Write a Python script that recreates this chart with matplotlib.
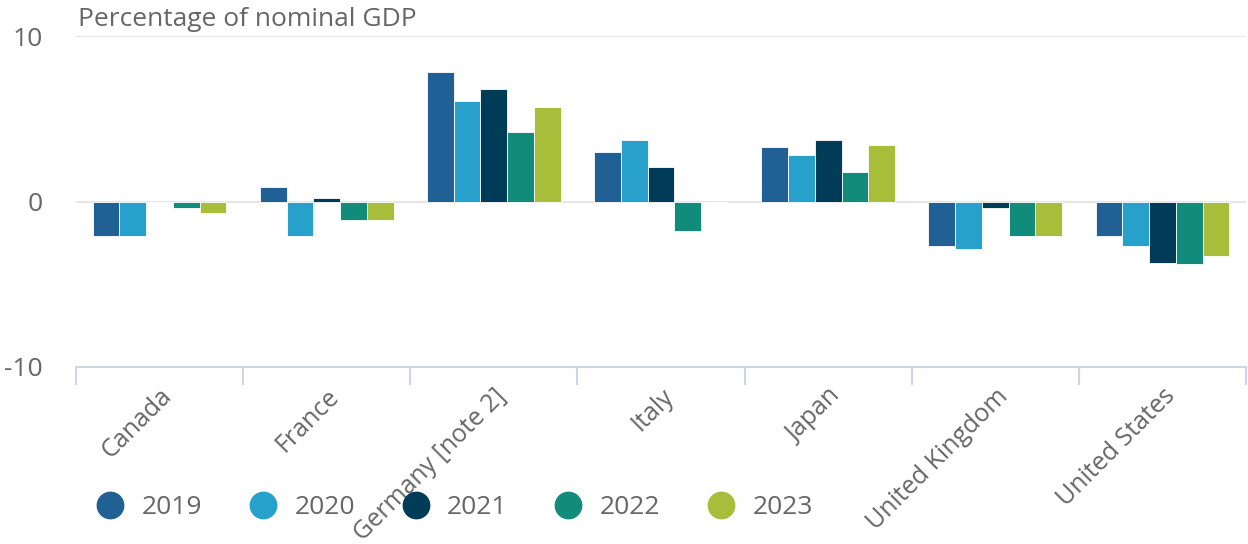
import matplotlib
matplotlib.use("Agg")
import matplotlib.pyplot as plt
import numpy as np
from matplotlib.lines import Line2D

countries = ["Canada", "France", "Germany [note 2]", "Italy", "Japan",
             "United Kingdom", "United States"]
years = ["2019", "2020", "2021", "2022", "2023"]
v2019 = [-2.1, 0.9, 7.8, 3.0, 3.3, -2.7, -2.1]
v2020 = [-2.1, -2.1, 6.1, 3.7, 2.8, -2.9, -2.7]
v2021 = [0.0, 0.2, 6.8, 2.1, 3.7, -0.4, -3.7]
v2022 = [-0.4, -1.1, 4.2, -1.8, 1.8, -2.1, -3.8]
v2023 = [-0.7, -1.1, 5.7, 0.0, 3.4, -2.1, -3.3]
series = [v2019, v2020, v2021, v2022, v2023]
colors = ["#206095", "#27a0cc", "#003c57", "#118c7b", "#a8bd3a"]

plt.rcParams['font.family'] = ['Open Sans', 'DejaVu Sans']
text_color = "#666666"
FS = 19

fig = plt.figure(figsize=(12.48, 5.44), dpi=100)
ax = fig.add_axes([76/1248, 1-367/544, (1246-76)/1248, (367-36)/544])

n = len(countries)
x = np.arange(n)
group_w = 0.8
bw = group_w / len(series)
for i, (vals, c) in enumerate(zip(series, colors)):
    offs = -group_w/2 + bw*(i+0.5)
    ax.bar(x + offs, vals, width=bw, color=c, edgecolor="white", linewidth=0.6, zorder=3)

ax.set_xlim(-0.5, n-0.5)
ax.set_ylim(-10, 10)

for s in ["top", "right", "left"]:
    ax.spines[s].set_visible(False)
ax.spines["bottom"].set_color("#ccd6eb")
ax.spines["bottom"].set_linewidth(1.5)
ax.spines["bottom"].set_position(("data", -10))

for yv in [0, 10]:
    ax.axhline(yv, color="#e6e6e6", linewidth=1.5, zorder=1)

ax.set_yticks([-10, 0, 10])
ax.set_yticklabels(["-10", "0", "10"])
ax.tick_params(axis="y", length=0, pad=24, labelsize=FS, labelcolor=text_color)

# category boundaries as ticks
ax.set_xticks(np.arange(-0.5, n, 1.0))
ax.set_xticklabels([])
ax.tick_params(axis="x", which="major", length=13, width=1.5, color="#ccd6eb", direction="out")
ax.set_xticks(x, minor=True)
ax.set_xticklabels(countries, minor=True, rotation=45, ha="right",
                   rotation_mode="anchor", fontsize=18, color=text_color)
ax.tick_params(axis="x", which="minor", length=0, pad=12)

fig.text(78/1248, 1-20/544, "Percentage of nominal GDP", fontsize=FS,
         color=text_color, va="center", ha="left")

handles = [Line2D([0], [0], marker="o", linestyle="none", markersize=19,
                  markerfacecolor=c, markeredgecolor=c) for c in colors]
fig.legend(handles, years, loc="center left", bbox_to_anchor=(94/1248, 1-508/544),
           ncol=5, frameon=False, fontsize=FS, labelcolor=text_color,
           handletextpad=0.6, columnspacing=1.7, handlelength=1.2,
           borderaxespad=0, borderpad=0)

fig.savefig("out.png", dpi=100)
